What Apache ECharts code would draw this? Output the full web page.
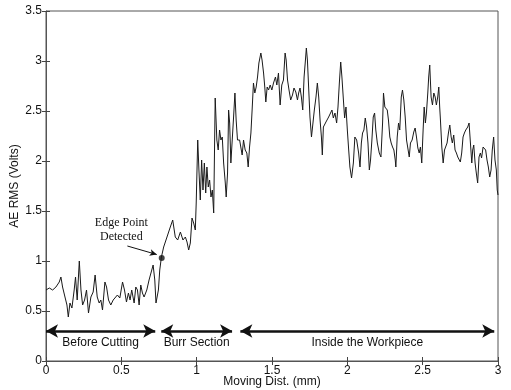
<!DOCTYPE html>
<html>
<head>
<meta charset="utf-8">
<script src="https://cdn.jsdelivr.net/npm/echarts@6/dist/echarts.min.js"></script>
<style>
  html, body { margin: 0; padding: 0; background: #fff; }
  #chart { width: 511px; height: 390px; }
</style>
</head>
<body>
<div id="chart"></div>
<script>
// moving distance (mm)
const dist = [
  0.000, 0.022, 0.044, 0.066, 0.088, 0.099, 0.110, 0.126, 0.139, 0.148,
  0.159, 0.172, 0.187, 0.196, 0.207, 0.221, 0.232, 0.243, 0.256, 0.269,
  0.282, 0.298, 0.313, 0.326, 0.340, 0.353, 0.364, 0.375, 0.391, 0.402,
  0.415, 0.430, 0.446, 0.459, 0.474, 0.490, 0.508, 0.521, 0.534, 0.547,
  0.558, 0.569, 0.585, 0.596, 0.607, 0.618, 0.629, 0.640, 0.651, 0.669,
  0.684, 0.702, 0.711, 0.722, 0.730, 0.737, 0.746, 0.755, 0.766,
  0.781, 0.803, 0.825, 0.841, 0.858, 0.874, 0.892, 0.909, 0.925, 0.936,
  0.947, 0.958, 0.969, 0.980, 0.991, 0.997, 1.007, 1.015, 1.024, 1.033,
  1.042, 1.051, 1.060, 1.068, 1.077, 1.086, 1.095, 1.104, 1.113, 1.123,
  1.134, 1.143, 1.152, 1.161, 1.170, 1.179, 1.190, 1.196, 1.205, 1.212,
  1.219, 1.227, 1.236, 1.245, 1.254, 1.262, 1.271, 1.285, 1.293, 1.302,
  1.311, 1.322, 1.333, 1.342, 1.351, 1.360, 1.368, 1.377, 1.386, 1.395,
  1.404, 1.413, 1.426, 1.434, 1.444, 1.452, 1.459, 1.468, 1.477, 1.488,
  1.499,
  1.510, 1.523, 1.532, 1.543, 1.554, 1.565, 1.576, 1.587, 1.594, 1.603,
  1.613, 1.624, 1.636, 1.646, 1.658, 1.669, 1.677, 1.686, 1.695, 1.704,
  1.713, 1.722, 1.728, 1.735, 1.744, 1.752, 1.762, 1.770, 1.781, 1.792,
  1.801, 1.810, 1.819, 1.828, 1.834, 1.841, 1.858, 1.876, 1.889, 1.898,
  1.907, 1.918, 1.929, 1.938, 1.947, 1.956, 1.964, 1.974, 1.982, 1.991,
  2.000, 2.009, 2.017, 2.028, 2.040, 2.050, 2.062, 2.075, 2.084, 2.093,
  2.101, 2.110, 2.119, 2.128, 2.137, 2.146, 2.154, 2.163, 2.172, 2.181,
  2.189, 2.199, 2.212, 2.223, 2.234, 2.240, 2.249,
  2.256, 2.265, 2.273, 2.282, 2.291, 2.300, 2.309, 2.318, 2.322, 2.331,
  2.340, 2.348, 2.358, 2.366, 2.375, 2.384, 2.393, 2.401, 2.411, 2.419,
  2.430, 2.441, 2.450, 2.459, 2.468, 2.477, 2.485, 2.494, 2.503, 2.510,
  2.518, 2.525, 2.534, 2.540, 2.547, 2.556, 2.565, 2.574, 2.583, 2.591,
  2.600, 2.607, 2.613, 2.618, 2.627, 2.636, 2.645, 2.653, 2.662, 2.671,
  2.680, 2.689, 2.697, 2.706, 2.715, 2.724, 2.733, 2.742, 2.750, 2.759,
  2.768, 2.777, 2.786, 2.799, 2.808, 2.817, 2.826, 2.832, 2.839, 2.848,
  2.856, 2.865, 2.874, 2.883, 2.891, 2.901, 2.909, 2.918, 2.927, 2.936,
  2.945, 2.954, 2.962, 2.971, 2.980, 2.989, 2.995, 3.000
]

// AE RMS (Volts)
const rms = [
  0.71, 0.73, 0.71, 0.74, 0.79, 0.84, 0.74, 0.64, 0.56, 0.44,
  0.58, 0.53, 0.71, 0.84, 0.61, 1.00, 0.71, 0.56, 0.61, 0.71,
  0.48, 0.64, 0.69, 0.86, 0.64, 0.58, 0.61, 0.51, 0.79, 0.74,
  0.61, 0.56, 0.61, 0.61, 0.66, 0.63, 0.79, 0.71, 0.59, 0.68,
  0.61, 0.71, 0.58, 0.74, 0.71, 0.56, 0.76, 0.68, 0.64, 0.71,
  0.81, 0.91, 0.96, 0.81, 0.58, 0.56, 0.71, 0.91, 1.04,
  1.14, 1.24, 1.34, 1.41, 1.24, 1.21, 1.29, 1.21, 1.24, 1.19,
  1.11, 1.18, 1.43, 1.38, 1.31, 1.58, 2.21, 1.91, 1.61, 2.01,
  1.71, 1.98, 1.68, 1.94, 1.74, 1.81, 1.64, 1.71, 1.48, 2.63,
  2.21, 2.11, 2.31, 2.21, 2.24, 1.98, 1.78, 1.64, 1.88, 2.51,
  2.38, 1.98, 2.21, 2.44, 2.68, 2.41, 2.21, 2.21, 2.14, 2.06,
  2.21, 2.11, 2.08, 1.94, 2.14, 2.28, 2.51, 2.78, 2.68, 2.74,
  2.84, 2.98, 3.08, 3.01, 2.88, 2.74, 2.59, 2.74, 2.71, 2.76,
  2.71,
  2.78, 2.84, 2.76, 2.88, 2.56, 2.76, 2.81, 3.08, 3.01, 2.81,
  2.71, 2.61, 2.66, 2.73, 2.69, 2.61, 2.68, 2.73, 2.64, 2.51,
  2.84, 3.01, 3.13, 3.01, 2.71, 2.44, 2.24, 2.23, 2.51, 2.64,
  2.78, 2.64, 2.41, 2.24, 2.06, 2.34, 2.39, 2.44, 2.46, 2.51,
  2.43, 2.48, 2.38, 2.54, 2.78, 2.99, 2.84, 2.61, 2.43, 2.54,
  2.31, 2.11, 1.94, 1.83, 1.98, 2.24, 2.21, 2.08, 1.94, 2.18,
  2.28, 2.31, 2.43, 2.34, 2.18, 1.91, 2.01, 2.21, 2.44, 2.48,
  2.31, 2.18, 2.08, 2.04, 2.38, 2.68, 2.54,
  2.54, 2.51, 2.41, 2.24, 2.18, 2.14, 2.11, 2.01, 1.94, 2.24,
  2.38, 2.31, 2.64, 2.71, 2.61, 2.44, 2.21, 2.21, 2.04, 2.18,
  2.21, 2.29, 2.33, 2.24, 2.13, 2.08, 2.14, 1.98, 2.31, 2.54,
  2.38, 2.48, 2.68, 2.84, 2.96, 2.64, 2.56, 2.68, 2.64, 2.56,
  2.64, 2.74, 2.54, 2.41, 2.14, 1.98, 2.11, 2.09, 2.18, 2.28,
  2.36, 2.24, 2.18, 2.26, 2.11, 2.08, 2.04, 2.06, 1.99, 2.08,
  2.24, 2.28, 2.31, 2.34, 2.38, 2.18, 1.98, 2.11, 2.16, 1.98,
  1.88, 1.78, 2.04, 2.08, 2.03, 2.14, 2.16, 2.11, 2.01, 1.94,
  1.84, 1.91, 2.11, 2.24, 2.01, 1.91, 1.71, 1.66
]

// section arrows along the bottom
const sectionNames = ['Before Cutting', 'Burr Section', 'Inside the Workpiece']
const sectionStart = [0.0, 0.765, 1.29]
const sectionEnd = [0.725, 1.235, 2.975]
const arrowLevel = 0.3

// detected edge point
const edgePoint = [0.768, 1.03]
const edgeLabel = 'Edge Point\nDetected'
const edgeLabelAt = [0.5, 1.315]
const edgeArrowFrom = [0.54, 1.15]
const edgeArrowTo = [0.735, 1.065]

const FONT = 'Liberation Sans'
const INK = '#111'

const chart = echarts.init(document.getElementById('chart'))

const sectionLines = sectionNames.map((name, i) => ([
  { name: name, coord: [sectionStart[i], arrowLevel] },
  { coord: [sectionEnd[i], arrowLevel] }
]))

const tickStyle = { show: true, inside: true, length: 4, lineStyle: { color: '#444', width: 1 } }

chart.setOption({
  animation: false,
  backgroundColor: '#fff',
  grid: {
    left: 46, right: 13, top: 11, bottom: 29,
    outerBoundsMode: 'none',
    containLabel: false,
    show: true, borderColor: '#555', borderWidth: 1
  },
  xAxis: [
    {
      type: 'value', min: 0, max: 3, interval: 0.5,
      name: 'Moving Dist. (mm)', nameLocation: 'middle', nameGap: 15,
      nameMoveOverlap: false,
      nameTextStyle: { fontFamily: FONT, fontSize: 12, color: INK },
      axisLine: { show: true, lineStyle: { color: '#555' } },
      axisTick: tickStyle,
      axisLabel: { fontFamily: FONT, fontSize: 12, color: INK, margin: 4 },
      splitLine: { show: false }
    },
    {
      type: 'value', position: 'top', min: 0, max: 3, interval: 0.5,
      axisLine: { show: false }, axisTick: tickStyle,
      axisLabel: { show: false }, splitLine: { show: false }
    }
  ],
  yAxis: [
    {
      type: 'value', min: 0, max: 3.5, interval: 0.5,
      name: 'AE RMS (Volts)', nameLocation: 'middle', nameGap: 25,
      nameMoveOverlap: false,
      nameTextStyle: { fontFamily: FONT, fontSize: 12, color: INK },
      axisLine: { show: true, lineStyle: { color: '#555' } },
      axisTick: tickStyle,
      axisLabel: { fontFamily: FONT, fontSize: 12, color: INK, margin: 4 },
      splitLine: { show: false }
    },
    {
      type: 'value', position: 'right', min: 0, max: 3.5, interval: 0.5,
      axisLine: { show: false }, axisTick: tickStyle,
      axisLabel: { show: false }, splitLine: { show: false }
    }
  ],
  series: [
    {
      type: 'line',
      data: dist.map((d, i) => [d, rms[i]]),
      showSymbol: false,
      lineStyle: { color: '#1a1a1a', width: 1 },
      markLine: {
        silent: true,
        symbol: ['arrow', 'arrow'],
        symbolSize: [10, 12],
        lineStyle: { color: INK, width: 2.5, type: 'solid' },
        label: {
          show: true, position: 'insideMiddleBottom', distance: 6,
          formatter: '{b}', fontFamily: FONT, fontSize: 12, color: INK
        },
        data: sectionLines
      }
    },
    {
      type: 'line',
      data: [],
      markLine: {
        silent: true,
        symbol: ['none', 'arrow'],
        symbolSize: [5, 7],
        lineStyle: { color: INK, width: 1, type: 'solid' },
        label: { show: false },
        data: [[{ coord: edgeArrowFrom }, { coord: edgeArrowTo }]]
      },
      markPoint: {
        symbol: 'circle', symbolSize: 0,
        label: {
          show: true, formatter: edgeLabel, align: 'center',
          fontFamily: 'Liberation Serif', fontSize: 12, lineHeight: 14, color: INK
        },
        data: [{ coord: edgeLabelAt }]
      }
    },
    {
      type: 'scatter',
      data: [edgePoint],
      symbolSize: 6,
      itemStyle: { color: INK }
    }
  ]
})
</script>
</body>
</html>
